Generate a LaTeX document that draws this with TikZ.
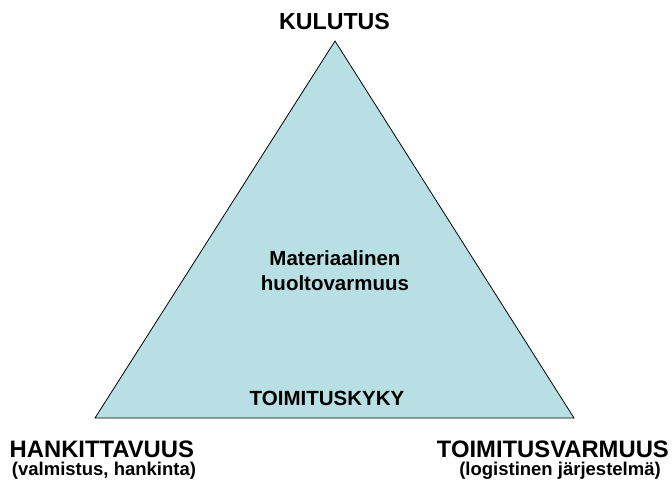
\documentclass[tikz,border=0pt]{standalone}
\usepackage{fontspec}
\setmainfont{Liberation Sans}
\definecolor{triFill}{RGB}{184,223,227}
\begin{document}
\begin{tikzpicture}[x=1pt,y=-1pt,
  big/.style={inner sep=0pt, anchor=base, font=\bfseries\fontsize{23.8}{27}\selectfont},
  mid/.style={inner sep=0pt, anchor=base, font=\bfseries\fontsize{20.5}{24}\selectfont},
  small/.style={inner sep=0pt, anchor=base, font=\bfseries\fontsize{18.5}{22}\selectfont}]
  \useasboundingbox (0,0) rectangle (672,484);
  % the triangle
  \coordinate (top) at (335,41);
  \coordinate (bl) at (95,418);
  \coordinate (br) at (574,418);
  \draw[fill=triFill, line width=0.8pt, line join=miter] (top) -- (bl) -- (br) -- cycle;
  % inner labels
  \node[mid] (mat) at (335,265) {Materiaalinen};
  \node[mid] (huol) at (335,290) {huoltovarmuus};
  \node[mid] (kyky) at (327,405) {TOIMITUSKYKY};
  % corner labels
  \node[big, font=\bfseries\fontsize{23.2}{27}\selectfont] (kul) at (334.5,29.5) {KULUTUS};
  \node[big, anchor=base west] (hank) at (9.5,457) {HANKITTAVUUS};
  \node[small] (hanksub) at (104,475) {(valmistus, hankinta)};
  \node[big, anchor=base east] (toim) at (669,457) {TOIMITUSVARMUUS};
  \node[small] (toimsub) at (560,475) {(logistinen järjestelmä)};
\end{tikzpicture}
\end{document}
